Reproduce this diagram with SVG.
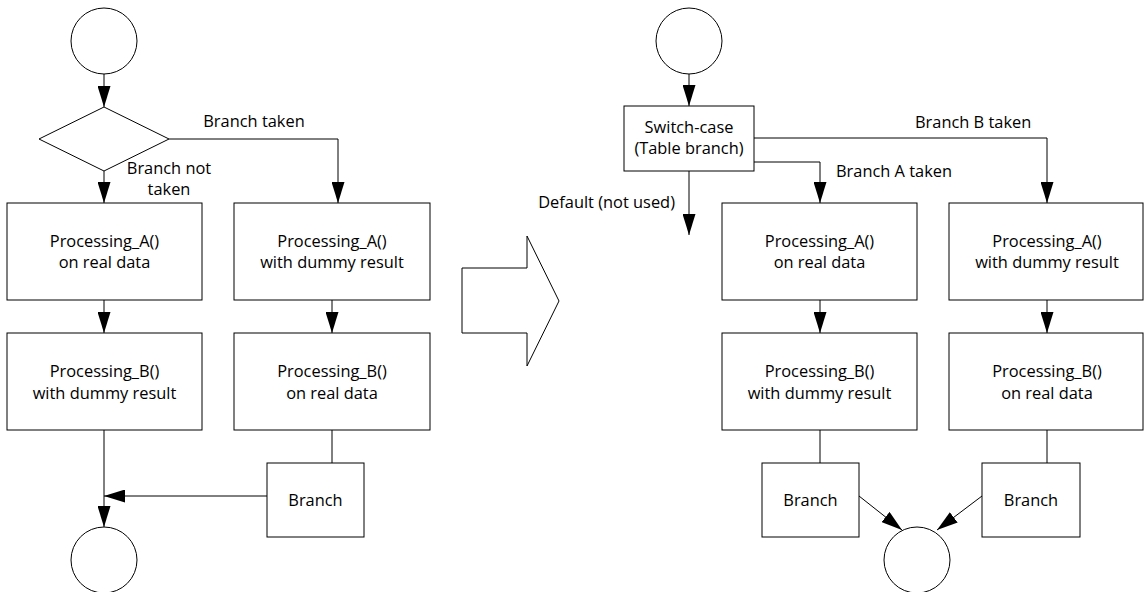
<svg xmlns="http://www.w3.org/2000/svg" width="1144" height="592" viewBox="0 0 1144 592">
<defs>
<marker id="ah" markerUnits="userSpaceOnUse" markerWidth="21" markerHeight="13" refX="21" refY="6.5" orient="auto">
<path d="M0,0 L21,6.5 L0,13 z" fill="#000"/>
</marker>
<style>
.n{fill:#fff;stroke:#000;stroke-width:1}
.c{fill:none;stroke:#000;stroke-width:1}
.a{fill:none;stroke:#000;stroke-width:1;marker-end:url(#ah)}
text{font-family:"Open Sans","Liberation Sans",sans-serif;font-size:16.4px;fill:#000}
.m{text-anchor:middle}
.e{text-anchor:end}
</style>
</defs>
<rect width="1144" height="592" fill="#fff"/>

<g id="connectors">
<path class="a" d="M104,74 V107"/>
<path class="a" d="M104,171 V203"/>
<path class="a" d="M169,139 H338 V203"/>
<path class="a" d="M104,300 V333"/>
<path class="a" d="M332,300 V333"/>
<path class="a" d="M104,430 V527"/>
<path class="c" d="M332,430 V463"/>
<path class="a" d="M267,496 H104"/>

<path class="a" d="M689,74 V106"/>
<path class="a" d="M689,171 V235"/>
<path class="a" d="M754,162 H820 V203"/>
<path class="a" d="M754,138 H1047 V203"/>
<path class="a" d="M820,300 V333"/>
<path class="a" d="M1047,300 V333"/>
<path class="c" d="M820,430 V463"/>
<path class="c" d="M1047,430 V463"/>
<path class="a" d="M859,496 L902,530"/>
<path class="a" d="M982,496 L937,530"/>
</g>

<g id="labels">
<text class="m" x="254" y="127">Branch taken</text>
<text class="m" x="169" y="174">Branch not</text>
<text class="m" x="169" y="195">taken</text>
<text class="e" x="675" y="208">Default (not used)</text>
<text x="836" y="177">Branch A taken</text>
<text x="915" y="128">Branch B taken</text>
</g>

<g id="start-left"><circle class="n" cx="104" cy="41" r="33"/></g>
<g id="decision"><path class="n" d="M104,107 L169,139 L104,171 L39,139 z"/></g>
<g id="left-a1"><rect class="n" x="7" y="203" width="195" height="97"/>
<text class="m" x="104.5" y="247">Processing_A()</text><text class="m" x="104.5" y="268">on real data</text></g>
<g id="left-a2"><rect class="n" x="234" y="203" width="196" height="97"/>
<text class="m" x="332" y="247">Processing_A()</text><text class="m" x="332" y="268">with dummy result</text></g>
<g id="left-b1"><rect class="n" x="7" y="333" width="195" height="97"/>
<text class="m" x="104.5" y="377">Processing_B()</text><text class="m" x="104.5" y="399">with dummy result</text></g>
<g id="left-b2"><rect class="n" x="234" y="333" width="196" height="97"/>
<text class="m" x="332" y="377">Processing_B()</text><text class="m" x="332" y="399">on real data</text></g>
<g id="left-branch"><rect class="n" x="267" y="463" width="97" height="74"/>
<text class="m" x="315.5" y="506">Branch</text></g>
<g id="end-left"><circle class="n" cx="104" cy="560" r="33"/></g>

<g id="big-arrow"><path class="n" d="M462,268 H527 V236 L559,301 L527,366 V333 H462 z"/></g>

<g id="start-right"><circle class="n" cx="689" cy="41" r="33"/></g>
<g id="switch"><rect class="n" x="624" y="106" width="130" height="65"/>
<text class="m" x="689" y="133">Switch-case</text><text class="m" x="689" y="154">(Table branch)</text></g>
<g id="right-a1"><rect class="n" x="722" y="203" width="195" height="97"/>
<text class="m" x="819.5" y="247">Processing_A()</text><text class="m" x="819.5" y="268">on real data</text></g>
<g id="right-a2"><rect class="n" x="949" y="203" width="194" height="97"/>
<text class="m" x="1047" y="247">Processing_A()</text><text class="m" x="1047" y="268">with dummy result</text></g>
<g id="right-b1"><rect class="n" x="722" y="333" width="195" height="97"/>
<text class="m" x="819.5" y="377">Processing_B()</text><text class="m" x="819.5" y="399">with dummy result</text></g>
<g id="right-b2"><rect class="n" x="949" y="333" width="194" height="97"/>
<text class="m" x="1047" y="377">Processing_B()</text><text class="m" x="1047" y="399">on real data</text></g>
<g id="right-branch1"><rect class="n" x="762" y="463" width="97" height="74"/>
<text class="m" x="810.5" y="506">Branch</text></g>
<g id="right-branch2"><rect class="n" x="982" y="463" width="98" height="74"/>
<text class="m" x="1031" y="506">Branch</text></g>
<g id="end-right"><circle class="n" cx="917" cy="560" r="33"/></g>
</svg>
